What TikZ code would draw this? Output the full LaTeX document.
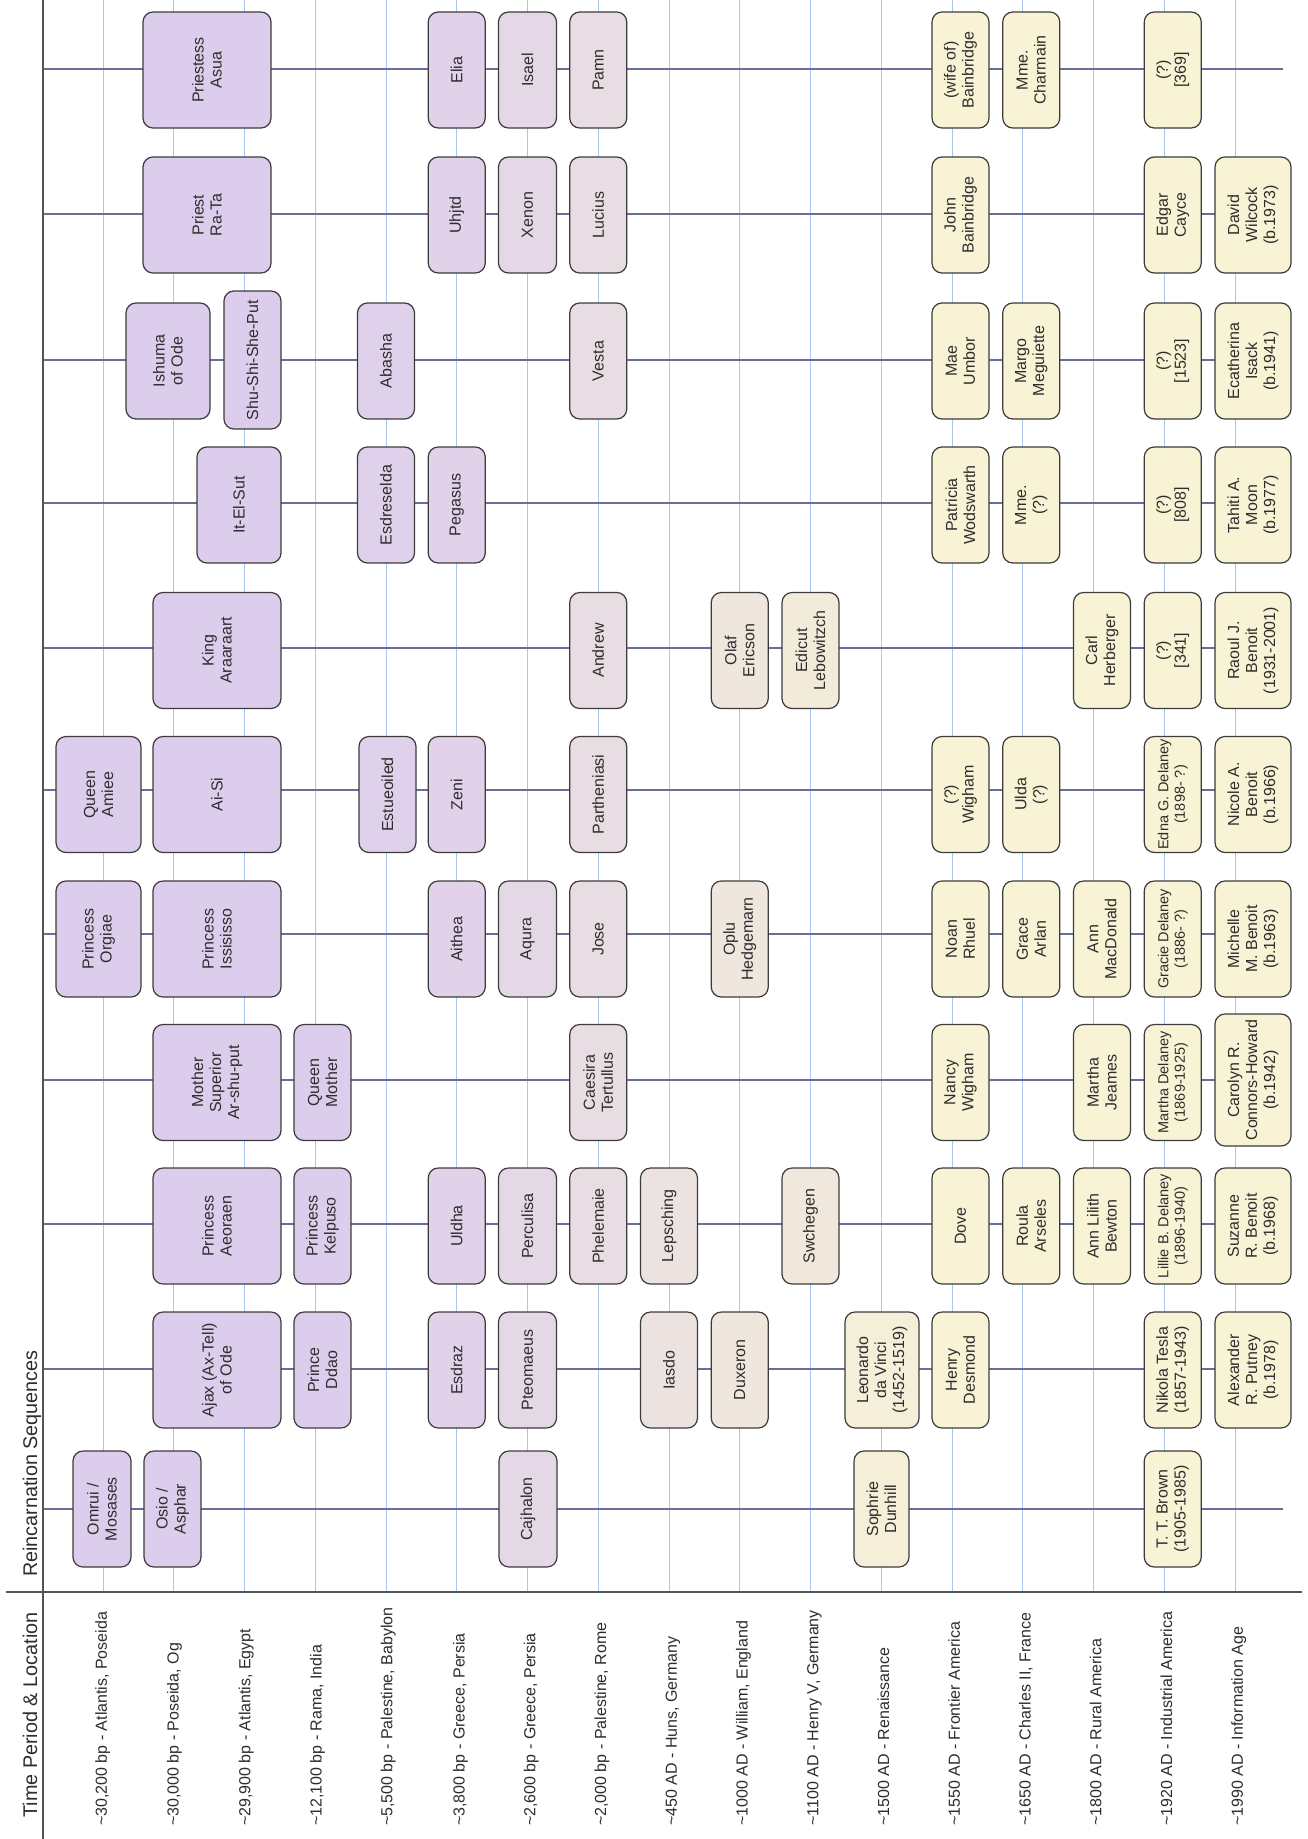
\documentclass[tikz,border=0pt]{standalone}
\usepackage{fontspec}
\setmainfont{Liberation Sans}
\definecolor{lav}{RGB}{221,205,237}
\definecolor{crm}{RGB}{248,243,213}
\definecolor{gridc}{RGB}{168,198,240}
\definecolor{seqc}{RGB}{104,110,152}
\definecolor{axisc}{RGB}{85,85,85}
\definecolor{bord}{RGB}{60,60,60}
\definecolor{txt}{RGB}{45,45,45}
\newcommand{\bfnt}{\fontsize{16}{18}\selectfont}
\newcommand{\sfnt}{\fontsize{14.5}{16.5}\selectfont}
\newcommand{\hfnt}{\fontsize{19.8}{22}\selectfont}
\newcommand{\bx}[8][]{\node[box,#1,minimum width=#6pt,minimum height=#5pt,fill=crm!#7!lav] (#2) at (#3,#4) {#8};}
\newcommand{\plab}[3]{\node[plabel] (#1) at (#2,1826) {#3};}
\begin{document}
\begin{tikzpicture}[x=1pt,y=-1pt,
  box/.style={draw=bord,line width=1.2pt,rounded corners=10pt,rotate=90,align=center,inner sep=0pt,font=\bfnt,text=txt},
  small/.style={font=\sfnt},
  gridline/.style={draw=gridc,line width=1pt},
  seqline/.style={draw=seqc,line width=1.3pt},
  axisline/.style={draw=axisc,line width=2pt},
  plabel/.style={rotate=90,anchor=base west,inner sep=0pt,font=\bfnt,text=txt},
  hdr/.style={rotate=90,anchor=base,inner sep=0pt,font=\hfnt,text=txt}]
\fill[white] (0,0) rectangle (1307,1839);
\useasboundingbox (0,0) rectangle (1307,1839);
% grid columns
\foreach \i in {0,...,16}{
  \coordinate (gt\i) at ({103+70.75*\i},0);
  \coordinate (gb\i) at ({103+70.75*\i},1592);
  \draw[gridline] (gt\i) -- (gb\i);
}
% sequence lines
\foreach \i/\y in {0/69,1/214,2/360,3/503,4/648,5/790,6/934,7/1080,8/1224,9/1369,10/1509}{
  \coordinate (sl\i) at (43,\y);
  \coordinate (sr\i) at (1283,\y);
  \draw[seqline] (sl\i) -- (sr\i);
}
% axes
\coordinate (axT) at (43,0);
\coordinate (axB) at (43,1839);
\coordinate (hdL) at (6,1592);
\coordinate (hdR) at (1302,1592);
\draw[axisline] (axT) -- (axB);
\draw[axisline] (hdL) -- (hdR);
% headers
\node[hdr] (hTime) at (37,1715) {Time Period \& Location};
\node[hdr] (hReinc) at (37,1463.5) {Reincarnation Sequences};
% period labels
\plab{p0}{106.75}{\textasciitilde30,200 bp - Atlantis, Poseida}
\plab{p1}{178.5}{\textasciitilde30,000 bp - Poseida, Og}
\plab{p2}{250.25}{\textasciitilde29,900 bp - Atlantis, Egypt}
\plab{p3}{321.5}{\textasciitilde12,100 bp - Rama, India}
\plab{p4}{392.25}{\textasciitilde5,500 bp - Palestine, Babylon}
\plab{p5}{464.5}{\textasciitilde3,800 bp - Greece, Persia}
\plab{p6}{535.25}{\textasciitilde2,600 bp - Greece, Persia}
\plab{p7}{606}{\textasciitilde2,000 bp - Palestine, Rome}
\plab{p8}{676.75}{\textasciitilde450 AD - Huns, Germany}
\plab{p9}{747.5}{\textasciitilde1000 AD - William, England}
\plab{p10}{818.25}{\textasciitilde1100 AD - Henry V, Germany}
\plab{p11}{889}{\textasciitilde1500 AD - Renaissance}
\plab{p12}{959.75}{\textasciitilde1550 AD - Frontier America}
\plab{p13}{1030.5}{\textasciitilde1650 AD - Charles II, France}
\plab{p14}{1101.25}{\textasciitilde1800 AD - Rural America}
\plab{p15}{1172}{\textasciitilde1920 AD - Industrial America}
\plab{p16}{1242.75}{\textasciitilde1990 AD - Information Age}
% sequence 0
\bx{asua}{207}{70}{128}{116}{0}{Priestess\\Asua}
\bx{elia}{456.75}{70}{57}{116}{14}{Elia}
\bx{isael}{527.5}{70}{58}{116}{28}{Isael}
\bx{pamn}{598.25}{70}{57}{116}{42}{Pamn}
\bx{wifeb}{960.5}{70}{57}{116}{100}{(wife of)\\Bainbridge}
\bx{charmain}{1031.25}{70}{57}{116}{100}{Mme.\\Charmain}
\bx{qa}{1172.75}{70}{57}{116}{100}{(?)\\{}[369]}
% sequence 1
\bx{rata}{207}{215}{128}{116}{0}{Priest\\Ra-Ta}
\bx{uhjtd}{456.75}{215}{57}{116}{14}{Uhjtd}
\bx{xenon}{527.5}{215}{58}{116}{28}{Xenon}
\bx{lucius}{598.25}{215}{57}{116}{42}{Lucius}
\bx{johnb}{960.5}{215}{57}{116}{100}{John\\Bainbridge}
\bx{cayce}{1172.75}{215}{57}{116}{100}{Edgar\\Cayce}
\bx{wilcock}{1253}{215}{76}{116}{100}{David\\Wilcock\\(b.1973)}
% sequence 2
\bx{ishuma}{168}{361}{84}{116}{0}{Ishuma\\of Ode}
\bx{shushi}{252.5}{360}{57}{138}{0}{Shu-Shi-She-Put}
\bx{abasha}{386}{361}{57}{116}{8}{Abasha}
\bx{vesta}{598.25}{361}{57}{116}{42}{Vesta}
\bx{umbor}{960.5}{361}{57}{116}{100}{Mae\\Umbor}
\bx{meguiette}{1031.25}{361}{57}{116}{100}{Margo\\Meguiette}
\bx{qb}{1172.75}{361}{57}{116}{100}{(?)\\{}[1523]}
\bx{isack}{1253}{361}{76}{116}{100}{Ecatherina\\Isack\\(b.1941)}
% sequence 3
\bx{itelsut}{239}{505}{84}{116}{0}{It-El-Sut}
\bx{esdreselda}{386}{505}{57}{116}{8}{Esdreselda}
\bx{pegasus}{456.75}{505}{57}{116}{14}{Pegasus}
\bx{wodswarth}{960.5}{505}{57}{116}{100}{Patricia\\Wodswarth}
\bx{mmeq}{1031.25}{505}{57}{116}{100}{Mme.\\(?)}
\bx{qc}{1172.75}{505}{57}{116}{100}{(?)\\{}[808]}
\bx{moon}{1253}{505}{76}{116}{100}{Tahiti A.\\Moon\\(b.1977)}
% sequence 4
\bx{araaraart}{217}{650.5}{128}{116}{0}{King\\Araaraart}
\bx{andrew}{598.25}{650.5}{57}{116}{42}{Andrew}
\bx{ericson}{739.75}{650.5}{57}{116}{65}{Olaf\\Ericson}
\bx{lebowitzch}{810.5}{650.5}{57}{116}{78}{Edicut\\Lebowitzch}
\bx{herberger}{1102}{650.5}{57}{116}{100}{Carl\\Herberger}
\bx{qd}{1172.75}{650.5}{57}{116}{100}{(?)\\{}[341]}
\bx{raoul}{1253}{650.5}{76}{116}{100}{Raoul J.\\Benoit\\(1931-2001)}
% sequence 5
\bx{amiee}{98.5}{794.5}{85}{116}{0}{Queen\\Amiee}
\bx{aisi}{217}{794.5}{128}{116}{0}{Ai-Si}
\bx{estueoiled}{387.5}{794.5}{57}{116}{8}{Estueoiled}
\bx{zeni}{456.75}{794.5}{57}{116}{14}{Zeni}
\bx{partheniasi}{598.25}{794.5}{57}{116}{42}{Partheniasi}
\bx{qwigham}{960.5}{794.5}{57}{116}{100}{(?)\\Wigham}
\bx{ulda}{1031.25}{794.5}{57}{116}{100}{Ulda\\(?)}
\bx[small]{edna}{1172.75}{794.5}{57}{116}{100}{Edna G. Delaney\\(1898- ?)}
\bx{nicole}{1253}{794.5}{76}{116}{100}{Nicole A.\\Benoit\\(b.1966)}
% sequence 6
\bx{orgiae}{98.5}{939}{85}{116}{0}{Princess\\Orgiae}
\bx{issisisso}{217}{939}{128}{116}{0}{Princess\\Issisisso}
\bx{aithea}{456.75}{939}{57}{116}{14}{Aithea}
\bx{aqura}{527.5}{939}{58}{116}{28}{Aqura}
\bx{jose}{598.25}{939}{57}{116}{42}{Jose}
\bx{hedgemarn}{739.75}{939}{57}{116}{65}{Oplu\\Hedgemarn}
\bx{rhuel}{960.5}{939}{57}{116}{100}{Noan\\Rhuel}
\bx{arlan}{1031.25}{939}{57}{116}{100}{Grace\\Arlan}
\bx{macdonald}{1102}{939}{57}{116}{100}{Ann\\MacDonald}
\bx[small]{gracie}{1172.75}{939}{57}{116}{100}{Gracie Delaney\\(1886- ?)}
\bx{michelle}{1253}{939}{76}{116}{100}{Michelle\\M. Benoit\\(b.1963)}
% sequence 7
\bx{arshuput}{217}{1082.5}{128}{116}{0}{Mother\\Superior\\Ar-shu-put}
\bx{queenmother}{322.5}{1082.5}{57}{116}{0}{Queen\\Mother}
\bx{caesira}{598.25}{1082.5}{57}{116}{42}{Caesira\\Tertullus}
\bx{nancy}{960.5}{1082.5}{57}{116}{100}{Nancy\\Wigham}
\bx{jeames}{1102}{1082.5}{57}{116}{100}{Martha\\Jeames}
\bx[small]{marthad}{1172.75}{1082.5}{57}{116}{100}{Martha Delaney\\(1869-1925)}
\bx{carolyn}{1253}{1080}{76}{132}{100}{Carolyn R.\\Connors-Howard\\(b.1942)}
% sequence 8
\bx{aeoraen}{217}{1226}{128}{116}{0}{Princess\\Aeoraen}
\bx{kelpuso}{322.5}{1226}{57}{116}{0}{Princess\\Kelpuso}
\bx{uldha}{456.75}{1226}{57}{116}{14}{Uldha}
\bx{perculisa}{527.5}{1226}{58}{116}{28}{Perculisa}
\bx{phelemaie}{598.25}{1226}{57}{116}{42}{Phelemaie}
\bx{lepsching}{669}{1226}{57}{116}{55}{Lepsching}
\bx{swchegen}{810.5}{1226}{57}{116}{72}{Swchegen}
\bx{dove}{960.5}{1226}{57}{116}{100}{Dove}
\bx{arseles}{1031.25}{1226}{57}{116}{100}{Roula\\Arseles}
\bx{bewton}{1102}{1226}{57}{116}{100}{Ann Lilith\\Bewton}
\bx[small]{lillie}{1172.75}{1226}{57}{116}{100}{Lillie B. Delaney\\(1896-1940)}
\bx{suzanne}{1253}{1226}{76}{116}{100}{Suzanne\\R. Benoit\\(b.1968)}
% sequence 9
\bx{ajax}{217}{1370}{128}{116}{0}{Ajax (Ax-Tell)\\of Ode}
\bx{ddao}{322.5}{1370}{57}{116}{0}{Prince\\Ddao}
\bx{esdraz}{456.75}{1370}{57}{116}{14}{Esdraz}
\bx{pteomaeus}{527.5}{1370}{58}{116}{28}{Pteomaeus}
\bx{iasdo}{669}{1370}{57}{116}{55}{Iasdo}
\bx{duxeron}{739.75}{1370}{57}{116}{65}{Duxeron}
\bx{leonardo}{882}{1370}{74}{116}{88}{Leonardo\\da Vinci\\(1452-1519)}
\bx{desmond}{960.5}{1370}{57}{116}{100}{Henry\\Desmond}
\bx{tesla}{1172.75}{1370}{57}{116}{100}{Nikola Tesla\\(1857-1943)}
\bx{putney}{1253}{1370}{76}{116}{100}{Alexander\\R. Putney\\(b.1978)}
% sequence 10
\bx{omrui}{102}{1509}{58}{116}{0}{Omrui /\\Mosases}
\bx{osio}{172.5}{1509}{57}{116}{0}{Osio /\\Asphar}
\bx{cajhalon}{528}{1509}{58}{116}{28}{Cajhalon}
\bx{dunhill}{881.5}{1509}{55}{116}{88}{Sophrie\\Dunhill}
\bx{ttbrown}{1172.75}{1509}{57}{116}{100}{T. T. Brown\\(1905-1985)}
\end{tikzpicture}
\end{document}
